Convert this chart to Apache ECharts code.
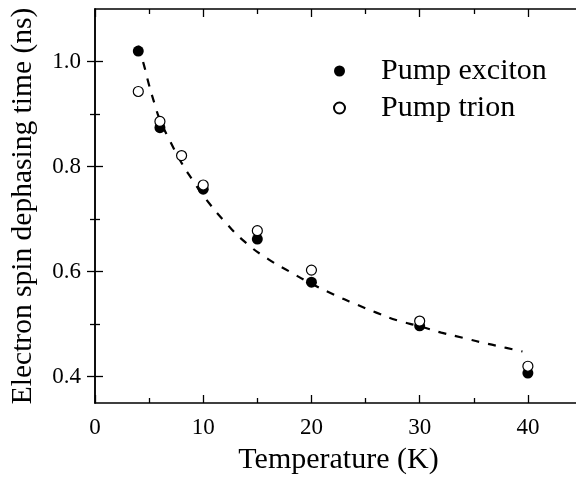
<!DOCTYPE html>
<html>
<head>
<meta charset="utf-8">
<script src="https://cdn.jsdelivr.net/npm/echarts@6/dist/echarts.min.js"></script>
<style>
  html, body { margin: 0; padding: 0; background: #fff; }
  #chart { width: 576px; height: 477px; }
</style>
</head>
<body>
<div id="chart"></div>
<script>
// Electron spin dephasing time vs temperature
const excitonT = [4, 6, 10, 15, 20, 30, 40];
const excitonTau = [1.02, 0.874, 0.757, 0.662, 0.58, 0.497, 0.407];

const trionT = [4, 6, 8, 10, 15, 20, 30, 40];
const trionTau = [0.943, 0.886, 0.821, 0.765, 0.678, 0.603, 0.506, 0.42];

// dashed guide curve
const fitT = [4, 4.5, 5, 5.5, 6, 7, 8, 9, 10, 12, 14, 16, 18, 20, 22, 24, 26, 28, 30, 32, 34, 36, 38, 39.5];
const fitTau = [1.03, 0.995, 0.955, 0.92, 0.889, 0.846, 0.807, 0.775, 0.745, 0.695, 0.654, 0.624, 0.6, 0.577, 0.557, 0.539, 0.522, 0.507, 0.496, 0.484, 0.474, 0.464, 0.455, 0.448];

const xMajor = [0, 10, 20, 30, 40];
const xMinor = [5, 15, 25, 35, 45];
const yMajor = [0.4, 0.6, 0.8, 1.0];
const yMinor = [0.5, 0.7, 0.9];

const FONT = 'Liberation Serif';
const AXIS_LINE = { show: true, lineStyle: { color: '#000', width: 1.5 } };

function xAx(position, ticks, len, labels, line, extra) {
  return Object.assign({
    type: 'value', position, min: 0, max: 45,
    axisLine: line ? AXIS_LINE : { show: false },
    axisTick: { show: true, inside: true, length: len, customValues: ticks, lineStyle: { color: '#000', width: 1.3 } },
    axisLabel: labels ? { show: true, customValues: labels, color: '#000', fontFamily: FONT, fontSize: 23, margin: 13 } : { show: false },
    splitLine: { show: false }
  }, extra || {});
}
function yAx(position, ticks, len, labels, line, extra) {
  return Object.assign({
    type: 'value', position, min: 0.35, max: 1.1,
    axisLine: line ? AXIS_LINE : { show: false },
    axisTick: { show: true, inside: true, length: len, customValues: ticks, lineStyle: { color: '#000', width: 1.3 } },
    axisLabel: labels ? { show: true, customValues: labels, color: '#000', fontFamily: FONT, fontSize: 23, margin: 14,
      formatter: v => v.toFixed(1) } : { show: false },
    splitLine: { show: false }
  }, extra || {});
}

const chart = echarts.init(document.getElementById('chart'), null, { renderer: 'canvas' });
chart.setOption({
  backgroundColor: '#fff',
  animation: false,
  grid: { left: 95, top: 9, right: -6, bottom: 74, containLabel: false, outerBoundsMode: 'none' },
  xAxis: [
    xAx('bottom', xMajor, 8, xMajor, true, {
      name: 'Temperature (K)', nameLocation: 'middle', nameGap: 42,
      nameTextStyle: { color: '#000', fontFamily: FONT, fontSize: 30 }
    }),
    xAx('bottom', xMinor, 5, null, false),
    xAx('top', xMajor, 8, null, true),
    xAx('top', xMinor, 5, null, false)
  ],
  yAxis: [
    yAx('left', yMajor, 8, yMajor, true, {
      name: 'Electron spin dephasing time (ns)', nameLocation: 'middle', nameGap: 57,
      nameTextStyle: { color: '#000', fontFamily: FONT, fontSize: 29.5 }
    }),
    yAx('left', yMinor, 5, null, false),
    yAx('right', yMajor, 8, null, true),
    yAx('right', yMinor, 5, null, false)
  ],
  legend: {
    data: ['Pump exciton', 'Pump trion'],
    orient: 'vertical', left: 328, top: 51,
    itemWidth: 11, itemHeight: 11, itemGap: 7,
    icon: 'circle',
    textStyle: { color: '#000', fontFamily: FONT, fontSize: 30, padding: [0, 0, 0, 31] }
  },
  series: [
    {
      name: 'fit', type: 'line', smooth: true, showSymbol: false, symbol: 'none',
      data: fitT.map((t, i) => [t, fitTau[i]]),
      lineStyle: { color: '#000', width: 2.2, type: [8, 9] },
      z: 1, silent: true
    },
    {
      name: 'Pump exciton', type: 'scatter', symbol: 'circle', symbolSize: 11,
      data: excitonT.map((t, i) => [t, excitonTau[i]]),
      itemStyle: { color: '#000', borderColor: '#000', borderWidth: 0, opacity: 1 },
      z: 2
    },
    {
      name: 'Pump trion', type: 'scatter', symbol: 'circle', symbolSize: 10,
      data: trionT.map((t, i) => [t, trionTau[i]]),
      itemStyle: { color: '#fff', borderColor: '#000', borderWidth: 1.2, opacity: 1 },
      z: 3
    }
  ]
});
</script>
</body>
</html>
